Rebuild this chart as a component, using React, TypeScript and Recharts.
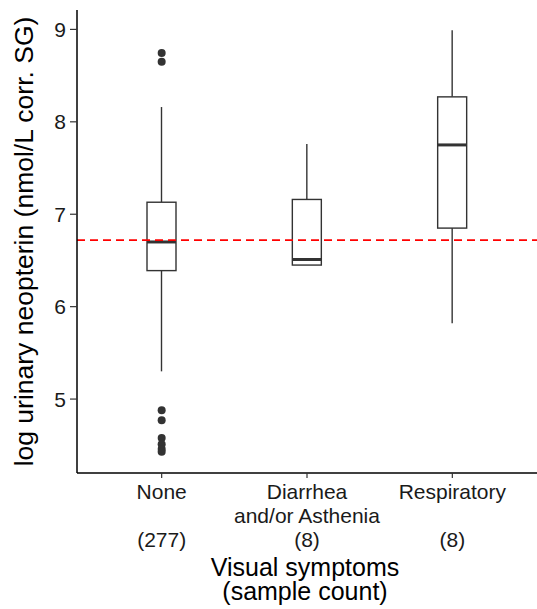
import { ComposedChart, Bar, Scatter, XAxis, YAxis, ReferenceLine } from "recharts";

const groups = ["None", "Diarrhea and/or Asthenia", "Respiratory"];
const groupLines = [["None", ""], ["Diarrhea", "and/or Asthenia"], ["Respiratory", ""]];
const counts = [277, 8, 8];
const whiskerLow = [5.3, 6.45, 5.82];
const q1 = [6.39, 6.45, 6.85];
const median = [6.7, 6.51, 7.75];
const q3 = [7.13, 7.16, 8.27];
const whiskerHigh = [8.16, 7.76, 8.99];
const outlierGroup = ["None", "None", "None", "None", "None", "None", "None", "None"];
const outlierValues = [8.745, 8.65, 4.88, 4.77, 4.58, 4.51, 4.46, 4.43];
const overallMedian = 6.72;
const yTicks = [5, 6, 7, 8, 9];

const FONT = "'Liberation Sans', Arial, sans-serif";

const boxData = groups.map((g, i) => ({
  group: g,
  range: [whiskerLow[i], whiskerHigh[i]],
  lo: whiskerLow[i],
  q1: q1[i],
  med: median[i],
  q3: q3[i],
  hi: whiskerHigh[i],
}));

const outliers = outlierValues.map((v, i) => ({ group: outlierGroup[i], value: v }));

function BoxShape(props: any) {
  const { x, y, width, height, payload } = props;
  const top = Math.min(y, y + height);
  const h = Math.abs(height);
  const { lo, hi } = payload;
  const toY = (v: number) => top + (h * (hi - v)) / (hi - lo);
  const cx = x + width / 2;
  const c = "#333333";
  return (
    <g>
      <line x1={cx} x2={cx} y1={toY(hi)} y2={toY(payload.q3)} stroke={c} strokeWidth={1.4} />
      <line x1={cx} x2={cx} y1={toY(payload.q1)} y2={toY(lo)} stroke={c} strokeWidth={1.4} />
      <rect
        x={x}
        y={toY(payload.q3)}
        width={width}
        height={toY(payload.q1) - toY(payload.q3)}
        fill="#fff"
        stroke={c}
        strokeWidth={1.4}
      />
      <line x1={x} x2={x + width} y1={toY(payload.med)} y2={toY(payload.med)} stroke={c} strokeWidth={3} />
    </g>
  );
}

function GroupTick(props: any) {
  const { x, y, index } = props;
  const lines = groupLines[index] || ["", ""];
  return (
    <g fontFamily={FONT} fontSize={21} fill="#1a1a1a" textAnchor="middle">
      <text x={x} y={y + 19}>{lines[0]}</text>
      <text x={x} y={y + 43}>{lines[1]}</text>
      <text x={x} y={y + 67}>({counts[index]})</text>
    </g>
  );
}

function XTitle(props: any) {
  const { viewBox } = props;
  const cx = viewBox.x + viewBox.width / 2 - 2;
  return (
    <g fontFamily={FONT} fontSize={25} fill="#000" textAnchor="middle">
      <text x={cx} y={viewBox.y + 103}>Visual symptoms</text>
      <text x={cx} y={viewBox.y + 127}>(sample count)</text>
    </g>
  );
}

function YTitle(props: any) {
  const { viewBox } = props;
  const cy = viewBox.y + viewBox.height / 2;
  return (
    <text
      x={24}
      y={cy}
      transform={`rotate(-90 24 ${cy})`}
      textAnchor="middle"
      dominantBaseline="central"
      fontFamily={FONT}
      fontSize={26.5}
      fill="#000"
    >
      log urinary neopterin (nmol/L corr. SG)
    </text>
  );
}

export default function App() {
  return (
    <div style={{ position: "absolute", left: 0, top: 0, background: "#fff" }}>
      <ComposedChart
        width={537}
        height={609}
        data={boxData}
        margin={{ top: 10, right: 0, bottom: 0, left: 0 }}
      >
        <XAxis
          dataKey="group"
          type="category"
          allowDuplicatedCategory={false}
          padding={{ left: 12, right: 12 }}
          height={136}
          tickSize={5}
          tickMargin={2}
          tickLine={{ stroke: "#333", strokeWidth: 1.2 }}
          axisLine={{ stroke: "#000", strokeWidth: 1.5 }}
          tick={<GroupTick />}
          interval={0}
          label={<XTitle />}
        />
        <YAxis
          type="number"
          domain={[4.2, 9.21]}
          ticks={yTicks}
          width={77}
          tickSize={7}
          tickMargin={4}
          tickLine={{ stroke: "#333", strokeWidth: 1.2 }}
          axisLine={{ stroke: "#000", strokeWidth: 1.5 }}
          tick={{ fontFamily: FONT, fontSize: 21, fill: "#1a1a1a" }}
          allowDataOverflow
          label={<YTitle />}
        />
        <ReferenceLine y={overallMedian} stroke="#ff0000" strokeWidth={1.6} strokeDasharray="8 5" ifOverflow="extendDomain" />
        <Bar dataKey="range" barSize={29} shape={<BoxShape />} isAnimationActive={false} />
        <Scatter data={outliers} dataKey="value" fill="#333333" isAnimationActive={false} shape={(p: any) => <circle cx={p.cx} cy={p.cy} r={4} fill="#333333" />} />
      </ComposedChart>
    </div>
  );
}
